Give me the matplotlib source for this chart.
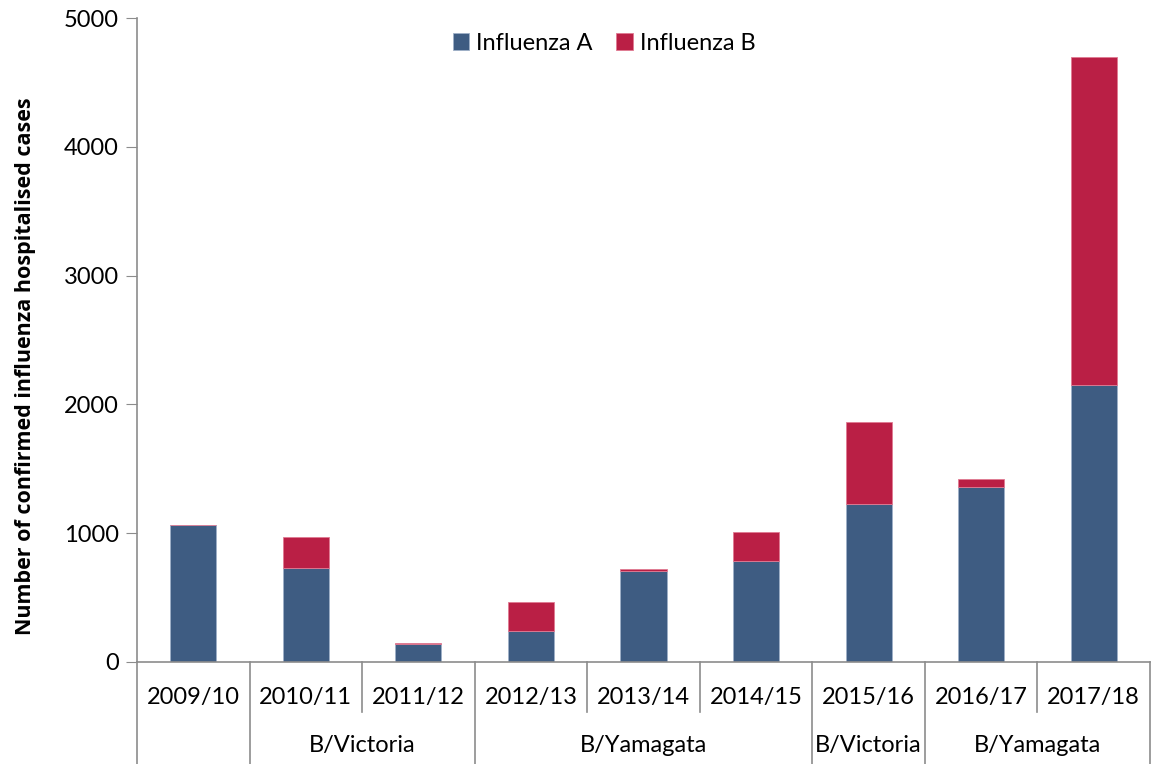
# -*- coding: utf-8 -*-
import numpy as np
import matplotlib.pyplot as plt

plt.rcParams['font.family'] = ['Lato', 'DejaVu Sans']

# Datos
seasons = ["2009/10", "2010/11", "2011/12", "2012/13", "2013/14",
           "2014/15", "2015/16", "2016/17", "2017/18"]
flu_a = [1063, 727, 137, 241, 709, 782, 1229, 1361, 2148]
flu_b = [0, 241, 10, 225, 11, 225, 632, 60, 2549]

# Grupos del linaje B dominante (etiqueta, primera y última temporada)
group_labels = ["", "B/Victoria", "B/Yamagata", "B/Victoria", "B/Yamagata"]
group_spans = [(0, 0), (1, 2), (3, 5), (6, 6), (7, 8)]

col_a = "#3E5C82"
col_b = "#BA1F45"
grey = "#8C8C8C"

fig = plt.figure(figsize=(11.53, 7.64), dpi=100)
ax = fig.add_axes([137 / 1153, 102 / 764, (1150 - 137) / 1153, 644 / 764])

x = np.arange(len(seasons))
ax.bar(x, flu_a, width=0.41, color=col_a, edgecolor="#9FB0C8", linewidth=0.6,
       label="Influenza A")
ax.bar(x, flu_b, width=0.41, bottom=flu_a, color=col_b, edgecolor="#E07A92",
       linewidth=0.6, label="Influenza B")

ax.set_xlim(-0.5, len(seasons) - 0.5)
ax.set_ylim(0, 5000)
ax.set_yticks([0, 1000, 2000, 3000, 4000, 5000])
ax.tick_params(axis="y", labelsize=17, length=8, color=grey, pad=5)
ax.set_xticks([])

for side in ["top", "right"]:
    ax.spines[side].set_visible(False)
ax.spines["left"].set_color(grey)
ax.spines["bottom"].set_color(grey)
ax.spines["left"].set_linewidth(1.2)
ax.spines["bottom"].set_linewidth(1.2)

ax.set_ylabel("Number of confirmed influenza hospitalised cases",
              fontsize=15.5, fontweight="bold", family=["Open Sans", "DejaVu Sans"])
ax.yaxis.set_label_coords(-0.100, 0.46)

# Eje de categorías jerárquico
trans = ax.get_xaxis_transform()
cat_y = -0.055
grp_y = -0.130
short = -0.078
long_ = -0.158
for i, s in enumerate(seasons):
    ax.text(i, cat_y, s, transform=trans, ha="center", va="center", fontsize=17)

group_edges = set()
for lab, (a, b) in zip(group_labels, group_spans):
    group_edges.add(a - 0.5)
    group_edges.add(b + 0.5)
    if lab:
        ax.text((a + b) / 2, grp_y, lab, transform=trans, ha="center",
                va="center", fontsize=17)

for e in np.arange(-0.5, len(seasons), 1.0):
    bottom = long_ if e in group_edges else short
    ax.plot([e, e], [0, bottom], transform=trans, color=grey, lw=1.2,
            clip_on=False)

ax.legend(loc="upper center", bbox_to_anchor=(0.461, 1.01), ncol=2, frameon=False,
          fontsize=17, handlelength=0.7, handleheight=0.7, handletextpad=0.3,
          columnspacing=1.0)

fig.savefig("out.png", dpi=100)
